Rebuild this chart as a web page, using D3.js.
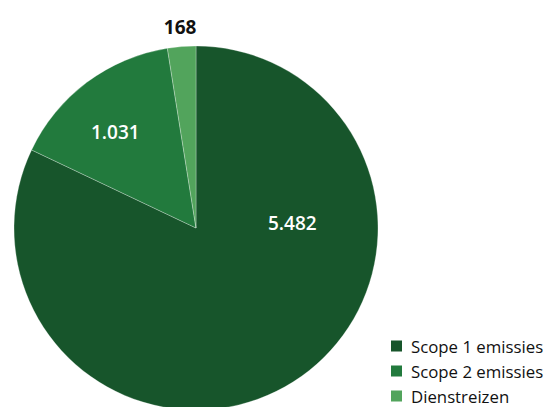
<!DOCTYPE html>
<html><head><meta charset="utf-8">
<script src="https://cdn.jsdelivr.net/npm/d3@7"></script>
<style>body{margin:0;background:#fff}svg{display:block}</style>
</head><body>
<svg id="c" width="548" height="407"></svg>
<script>
const categories = ["Scope 1 emissies", "Scope 2 emissies", "Dienstreizen"];
const values = [5482, 1031, 168];
const labels = ["5.482", "1.031", "168"];
const colors = ["#17552B", "#227A3D", "#52A45C"];
// label placement: [angle in degrees clockwise from top, radius factor, inside?]
const labelPlacement = [[87, 0.53, true], [320, 0.69, true], [355.5, 1.11, false]];

const svg = d3.select("#c");
const cx = 196, cy = 228, r = 182;
const g = svg.append("g").attr("transform", `translate(${cx},${cy})`);
const pie = d3.pie().sort(null).value(d => d)(values);
const arc = d3.arc().innerRadius(0).outerRadius(r);
g.selectAll("path").data(pie).join("path")
  .attr("d", arc).attr("fill", (d, i) => colors[i])
  .attr("stroke", "rgba(255,255,255,0.35)").attr("stroke-width", 0.8);

g.selectAll("text.lbl").data(pie).join("text").attr("class", "lbl")
  .attr("x", (d, i) => Math.sin(labelPlacement[i][0] * Math.PI / 180) * labelPlacement[i][1] * r)
  .attr("y", (d, i) => -Math.cos(labelPlacement[i][0] * Math.PI / 180) * labelPlacement[i][1] * r)
  .attr("text-anchor", "middle").attr("dominant-baseline", "central")
  .attr("font-family", "'Open Sans', sans-serif").attr("font-size", 19)
  .attr("font-weight", (d, i) => labelPlacement[i][2] ? 600 : 700)
  .attr("fill", (d, i) => labelPlacement[i][2] ? "#fff" : "#111")
  .text((d, i) => labels[i]);

const leg = svg.append("g");
const rows = leg.selectAll("g").data(categories).join("g")
  .attr("transform", (d, i) => `translate(391,${346 + i * 25})`);
rows.append("rect").attr("x", 0).attr("y", -5.5).attr("width", 11).attr("height", 11)
  .attr("fill", (d, i) => colors[i]);
rows.append("text").attr("x", 20).attr("y", 0).attr("dominant-baseline", "central")
  .attr("font-family", "'Open Sans', sans-serif").attr("font-size", 16.8).attr("fill", "#111")
  .text(d => d);
</script>
</body></html>
